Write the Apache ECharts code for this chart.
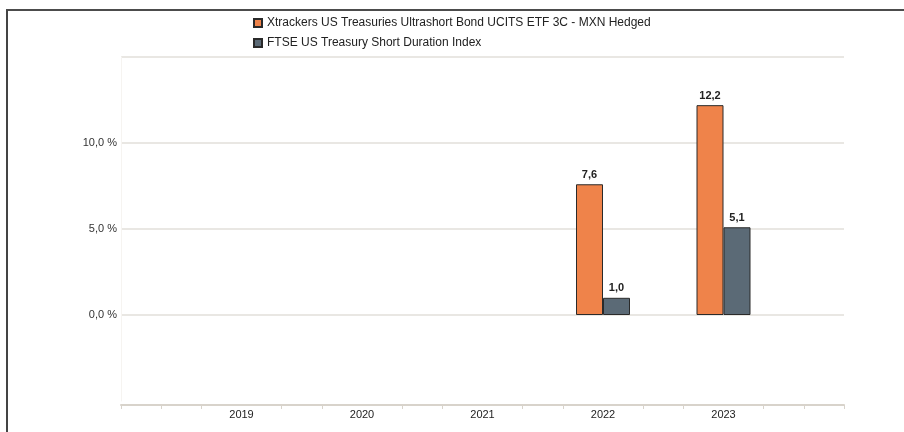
<!DOCTYPE html>
<html>
<head>
<meta charset="utf-8">
<script src="https://cdn.jsdelivr.net/npm/echarts@6/dist/echarts.min.js"></script>
<style>
  html, body { margin: 0; padding: 0; background: #fff; }
  #chart { width: 904px; height: 432px; }
</style>
</head>
<body>
<div id="chart"></div>
<script>
// données
const years = ['', '2019', '2020', '2021', '2022', '2023', ''];
const fundName = 'Xtrackers US Treasuries Ultrashort Bond UCITS ETF 3C - MXN Hedged';
const indexName = 'FTSE US Treasury Short Duration Index';
const fundValues = [null, null, null, null, 7.6, 12.2, null];
const indexValues = [null, null, null, null, 1.0, 5.1, null];

// graduations fines de l'axe X (19 positions, une tous les 40 px environ)
const tickSlots = Array.from({ length: 19 }, (_, i) => String(i));

const chart = echarts.init(document.getElementById('chart'));
const font = 'Liberation Sans, Arial, sans-serif';
const fmt = v => v.toFixed(1).replace('.', ',');

const barLabel = {
    show: true,
    position: 'top',
    distance: 4,
    color: '#222',
    fontSize: 11,
    fontWeight: 'bold',
    formatter: p => fmt(p.value)
};

const options = {
    animation: false,
    textStyle: { fontFamily: font },
    legend: {
        orient: 'vertical',
        left: 248,
        top: 12,
        itemWidth: 8,
        itemHeight: 8,
        itemGap: 8,
        icon: 'rect',
        textStyle: { fontSize: 12, color: '#222', fontFamily: font },
        data: [fundName, indexName]
    },
    grid: { left: 121, right: 60, top: 57, bottom: 31 },
    xAxis: [
        {
            type: 'category',
            data: years,
            boundaryGap: false,
            position: 'bottom',
            offset: 4,
            axisLine: { show: true, onZero: false, lineStyle: { color: '#d8d3cb', width: 2 } },
            axisTick: { show: false },
            axisLabel: { color: '#222', fontSize: 11, margin: 4 }
        },
        {
            type: 'category',
            data: tickSlots,
            boundaryGap: false,
            position: 'bottom',
            offset: 4,
            axisLine: { show: false, onZero: false },
            axisTick: {
                show: true,
                length: 4,
                interval: (i) => i % 3 !== 0 || i === 0 || i === 18,
                lineStyle: { color: '#d8d3cb', width: 1 }
            },
            axisLabel: { show: false }
        }
    ],
    yAxis: {
        type: 'value',
        min: -5,
        max: 15,
        interval: 5,
        axisLine: { show: true, lineStyle: { color: '#f6f4f1', width: 1 } },
        axisTick: { show: false },
        axisLabel: {
            color: '#333',
            fontSize: 11,
            margin: 4,
            formatter: v => (v < 0 || v > 10) ? '' : fmt(v) + ' %'
        },
        splitLine: {
            lineStyle: { color: ['transparent', '#e2dfda', '#e2dfda', '#e2dfda', '#e2dfda'], width: 1.5 }
        }
    },
    series: [
        {
            name: fundName,
            type: 'bar',
            xAxisIndex: 0,
            data: fundValues,
            barWidth: 27,
            barGap: '0%',
            itemStyle: { color: '#ef834a', borderColor: '#2a2a2a', borderWidth: 1 },
            label: barLabel
        },
        {
            name: indexName,
            type: 'bar',
            xAxisIndex: 0,
            data: indexValues,
            barWidth: 27,
            barGap: '0%',
            itemStyle: { color: '#5b6a76', borderColor: '#2a2a2a', borderWidth: 1 },
            label: barLabel
        }
    ],
    graphic: [
        { type: 'line', shape: { x1: 6, y1: 10, x2: 904, y2: 10 }, style: { stroke: '#111', lineWidth: 1.5 } },
        { type: 'line', shape: { x1: 7, y1: 10, x2: 7, y2: 432 }, style: { stroke: '#444', lineWidth: 2 } }
    ]
};

chart.setOption(options);
</script>
</body>
</html>
